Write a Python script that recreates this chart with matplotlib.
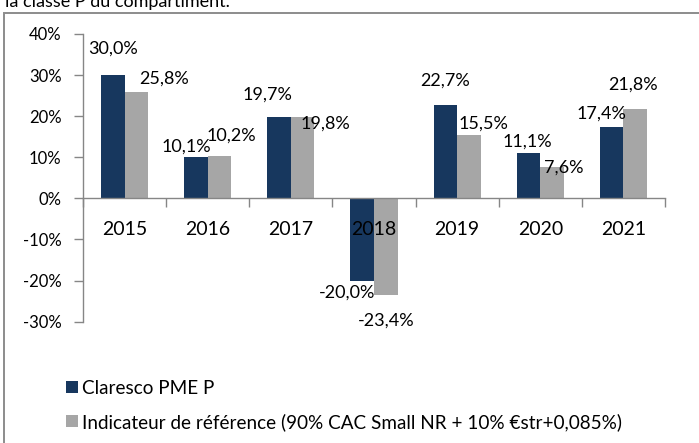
import matplotlib
matplotlib.use("Agg")
import matplotlib.pyplot as plt
from matplotlib.patches import Rectangle, Patch
import numpy as np

plt.rcParams['font.family'] = ['Lato', 'DejaVu Sans']

# ---- data ----
years = ["2015", "2016", "2017", "2018", "2019", "2020", "2021"]
fund = [30.0, 10.1, 19.7, -20.0, 22.7, 11.1, 17.4]
benchmark = [25.8, 10.2, 19.8, -23.4, 15.5, 7.6, 21.8]
fund_name = "Claresco PME P"
bench_name = "Indicateur de référence (90% CAC Small NR + 10% €str+0,085%)"
y_ticks = [-30, -20, -10, 0, 10, 20, 30, 40]
y_tick_labels = ["-30%", "-20%", "-10%", "0%", "10%", "20%", "30%", "40%"]
header_text = "la classe P du compartiment."

# ---- style ----
NAVY = "#17375E"
GREY = "#A6A6A6"
AXIS = "#868686"
W, H = 699, 443

# label offsets in pixels (dx, dy) relative to bar end
fund_off = [(0, 26), (-10, 10), (-12, 23), (-15, -12), (0, 24), (-1, 11), (-10, 13)]
bench_off = [(28, 14), (12, 21), (23, -7), (0, -26), (15, 11), (12, 0), (-2, 24)]

def fmt(v):
    return f"{v:.1f}%".replace(".", ",")

fig = plt.figure(figsize=(W / 100, H / 100), dpi=100)

# outer frame (partially cut off)
fig.patches.append(Rectangle((4 / W, -0.2), 1.2, 1 - 12.7 / H + 0.2,
                             transform=fig.transFigure, fill=False,
                             edgecolor="#8C8C8C", linewidth=1.4))
fig.text(5 / W, 1 - 7 / H, header_text, fontsize=13, ha="left", va="baseline")

ax = fig.add_axes([83 / W, 1 - 321.7 / H, (665 - 83) / W, (321.7 - 34) / H])
x = np.arange(len(years))
bw = 0.283
ax.bar(x - bw / 2, fund, bw, color=NAVY, label=fund_name, zorder=1)
ax.bar(x + bw / 2, benchmark, bw, color=GREY, label=bench_name, zorder=1)

ax.set_xlim(-0.5, len(years) - 0.5)
ax.set_ylim(-30, 40)
ax.set_yticks(y_ticks)
ax.set_yticklabels(y_tick_labels, fontsize=12)
ax.tick_params(axis="y", length=6.5, width=1, color=AXIS, pad=9)

ax.spines["top"].set_visible(False)
ax.spines["right"].set_visible(False)
ax.spines["left"].set_color(AXIS)
ax.spines["bottom"].set_color(AXIS)
ax.spines["left"].set_linewidth(1)
ax.spines["bottom"].set_linewidth(1)
ax.spines["bottom"].set_position(("data", 0))
ax.spines["bottom"].set_zorder(3)

ax.set_xticks(np.arange(len(years) + 1) - 0.5)
ax.set_xticklabels([])
ax.tick_params(axis="x", length=6.5, width=1, color=AXIS, direction="out")

for i, yr in enumerate(years):
    ax.annotate(yr, (i, 0), xytext=(0, -31), textcoords="offset pixels",
                ha="center", va="center", fontsize=14, zorder=4)

for i in range(len(years)):
    ax.annotate(fmt(fund[i]), (i - bw / 2, fund[i]), xytext=fund_off[i],
                textcoords="offset pixels", ha="center", va="center",
                fontsize=13, zorder=4)
    ax.annotate(fmt(benchmark[i]), (i + bw / 2, benchmark[i]), xytext=bench_off[i],
                textcoords="offset pixels", ha="center", va="center",
                fontsize=13, zorder=4)

handles = [Patch(facecolor=NAVY), Patch(facecolor=GREY)]
fig.legend(handles, [fund_name, bench_name], loc="upper left",
           bbox_to_anchor=(66 / W, 1 - 380 / H), frameon=False,
           fontsize=13.6, handlelength=0.62, handleheight=0.62,
           handletextpad=0.25, labelspacing=0.85, borderpad=0, borderaxespad=0)

fig.savefig("out.png", dpi=100)
